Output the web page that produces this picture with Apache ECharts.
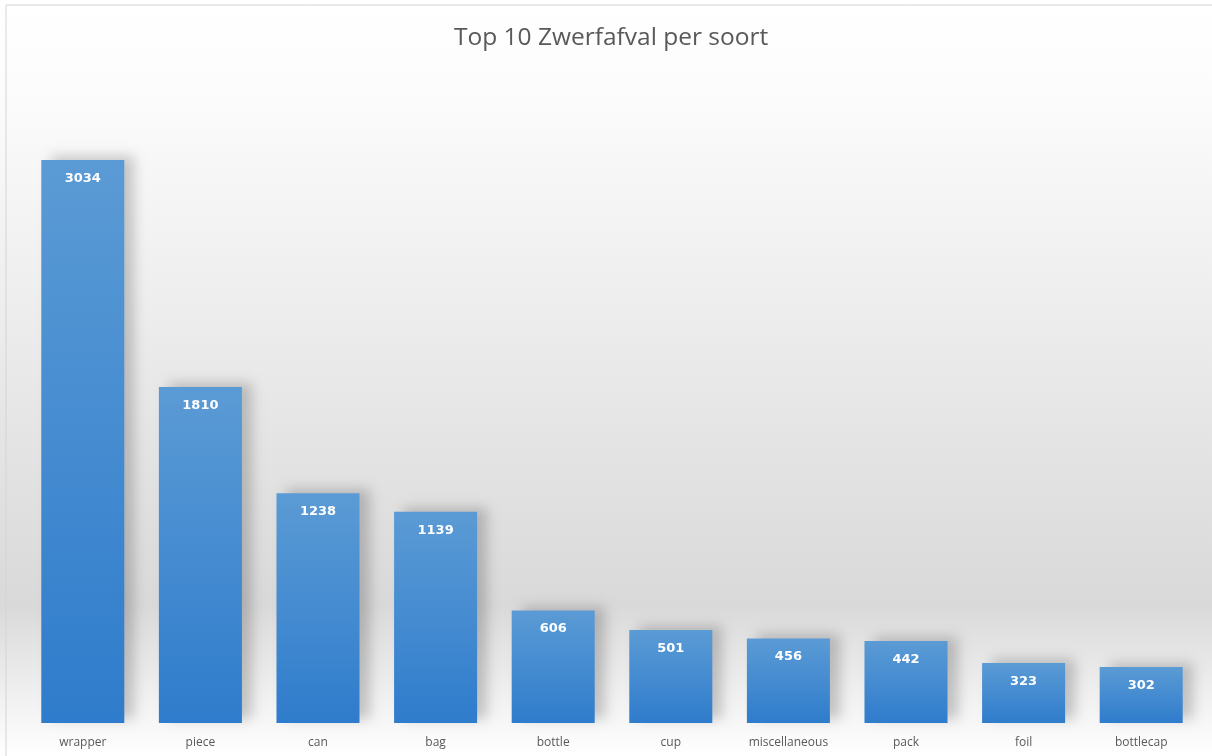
<!DOCTYPE html>
<html>
<head>
<meta charset="utf-8">
<script src="https://cdn.jsdelivr.net/npm/echarts@6/dist/echarts.min.js"></script>
<style>
  html, body { margin: 0; padding: 0; }
  #chart { width: 1212px; height: 756px; }
</style>
</head>
<body>
<div id="chart"></div>
<script>
const categories = ['wrapper', 'piece', 'can', 'bag', 'bottle', 'cup', 'miscellaneous', 'pack', 'foil', 'bottlecap']
const counts = [3034, 1810, 1238, 1139, 606, 501, 456, 442, 323, 302]

const chart = echarts.init(document.getElementById('chart'))

const option = {
  backgroundColor: {
    type: 'linear', x: 0, y: 0, x2: 0, y2: 1,
    colorStops: [
      { offset: 0, color: '#ffffff' },
      { offset: 0.12, color: '#fcfcfc' },
      { offset: 0.8, color: '#d9d9d9' },
      { offset: 0.93, color: '#f2f2f2' },
      { offset: 1, color: '#ffffff' },
    ],
  },
  title: {
    text: 'Top 10 Zwerfafval per soort',
    left: 449,
    top: 21,
    textStyle: { fontFamily: 'Open Sans', fontWeight: 'normal', fontSize: 24.5, color: '#595959' },
  },
  graphic: [
    { type: 'line', shape: { x1: 6, y1: 5, x2: 1212, y2: 5 }, style: { stroke: '#d4d4d4', lineWidth: 1 } },
    { type: 'line', shape: { x1: 6, y1: 5, x2: 6, y2: 756 }, style: { stroke: '#d4d4d4', lineWidth: 1 } },
  ],
  grid: { left: 24, right: 12, top: 73.5, bottom: 33 },
  xAxis: {
    type: 'category',
    data: categories,
    axisLine: { show: false },
    axisTick: { show: false },
    axisLabel: { color: '#595959', fontSize: 12, fontFamily: 'Open Sans', margin: 14 },
  },
  yAxis: {
    type: 'value',
    min: 0,
    max: 3500,
    show: false,
    splitLine: { show: false },
  },
  series: [{
    type: 'bar',
    data: counts,
    barWidth: '70.6%',
    itemStyle: {
      color: {
        type: 'linear', x: 0, y: 0, x2: 0, y2: 1,
        colorStops: [
          { offset: 0, color: '#5b9bd5' },
          { offset: 1, color: '#2f7ccc' },
        ],
      },
      shadowColor: 'rgba(0,0,0,0.2)',
      shadowBlur: 12,
      shadowOffsetX: 10,
      shadowOffsetY: -4,
    },
    label: {
      show: true,
      position: 'insideTop',
      distance: 12,
      color: '#ffffff',
      fontWeight: 'bold',
      fontSize: 13,
      fontFamily: 'DejaVu Sans',
    },
  }],
}

chart.setOption(option)
window.addEventListener('resize', () => chart.resize())
</script>
</body>
</html>
